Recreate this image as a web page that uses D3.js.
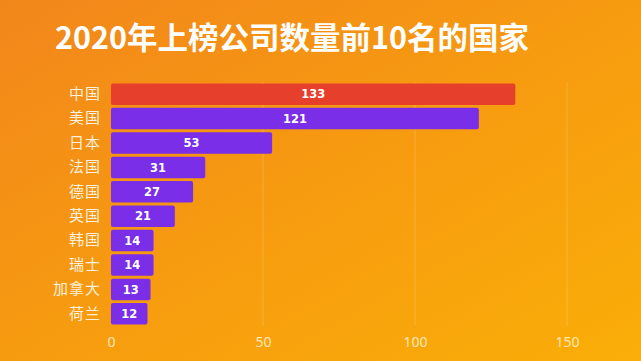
<!DOCTYPE html>
<html>
<head>
<meta charset="utf-8">
<script src="https://cdn.jsdelivr.net/npm/d3@7"></script>
<style>
  html, body { margin: 0; padding: 0; overflow: hidden; }
  svg { display: block; font-family: "Noto Sans CJK SC", "Noto Sans", sans-serif; }
</style>
</head>
<body>
<div class="container"></div>
<script>
var countries = ["中国", "美国", "日本", "法国", "德国", "英国", "韩国", "瑞士", "加拿大", "荷兰"];
var counts = [133, 121, 53, 31, 27, 21, 14, 14, 13, 12];
var tickValues = [0, 50, 100, 150];
var title = "2020年上榜公司数量前10名的国家";

var chart = function () {
	var width = 641, height = 361;
	var plotLeft = 111, plotRight = 567, plotTop = 82, plotBottom = 326;

	var svg = d3.select('.container').append('svg')
		.attr('width', width)
		.attr('height', height);

	// background gradient
	var grad = svg.append('defs').append('linearGradient')
		.attr('id', 'bg')
		.attr('x1', '0%').attr('y1', '0%')
		.attr('x2', '100%').attr('y2', '100%');
	grad.append('stop').attr('offset', '0%').attr('stop-color', '#f2861b');
	grad.append('stop').attr('offset', '55%').attr('stop-color', '#f79d0f');
	grad.append('stop').attr('offset', '100%').attr('stop-color', '#faae08');

	svg.append('rect')
		.attr('width', width)
		.attr('height', height)
		.attr('fill', 'url(#bg)');

	svg.append('text')
		.attr('x', 55)
		.attr('y', 49)
		.attr('fill', '#ffffff')
		.attr('font-size', 30.5)
		.attr('font-weight', 'bold')
		.text(title);

	var x = d3.scaleLinear().domain([0, 150]).range([plotLeft, plotRight]);
	var y = d3.scaleBand().domain(countries).range([plotTop, plotBottom]).paddingInner(0.12).paddingOuter(0.06);

	// grid lines
	svg.append('g').selectAll('line')
		.data(tickValues.slice(1))
		.enter().append('line')
		.attr('x1', function (d) { return x(d); })
		.attr('x2', function (d) { return x(d); })
		.attr('y1', plotTop)
		.attr('y2', plotBottom)
		.attr('stroke', '#ffffff')
		.attr('stroke-opacity', 0.18)
		.attr('stroke-width', 1);

	// x axis
	var xAxis = svg.append('g')
		.attr('transform', 'translate(0,' + (plotBottom + 1) + ')')
		.call(d3.axisBottom(x).tickValues(tickValues).tickSize(0).tickPadding(10));
	xAxis.select('.domain').remove();
	xAxis.selectAll('text')
		.attr('fill', '#fde7b4')
		.attr('font-size', 14)
		.attr('font-family', '"Noto Sans", sans-serif');

	// y axis
	var yAxis = svg.append('g')
		.attr('transform', 'translate(' + (plotLeft - 10) + ',0)')
		.call(d3.axisLeft(y).tickSize(0).tickPadding(0));
	yAxis.select('.domain').remove();
	yAxis.selectAll('text')
		.attr('fill', '#fdf0dc')
		.attr('font-size', 15)
		.attr('letter-spacing', 1)
		.attr('font-family', '"Noto Sans CJK SC", sans-serif');

	// bars
	var bars = svg.append('g').selectAll('g')
		.data(countries)
		.enter().append('g');

	bars.append('rect')
		.attr('x', x(0))
		.attr('y', function (d) { return y(d); })
		.attr('width', function (d, i) { return x(counts[i]) - x(0); })
		.attr('height', y.bandwidth())
		.attr('rx', 2)
		.attr('fill', function (d, i) { return i === 0 ? '#e6402c' : '#7a2ee8'; });

	bars.append('text')
		.attr('x', function (d, i) { return (x(counts[i]) + x(0)) / 2; })
		.attr('y', function (d) { return y(d) + y.bandwidth() / 2; })
		.attr('dy', '0.36em')
		.attr('text-anchor', 'middle')
		.attr('fill', '#ffffff')
		.attr('font-size', 11.5)
		.attr('font-weight', 'bold')
		.attr('font-family', '"DejaVu Sans", sans-serif')
		.text(function (d, i) { return counts[i]; });
};

chart();
</script>
</body>
</html>
